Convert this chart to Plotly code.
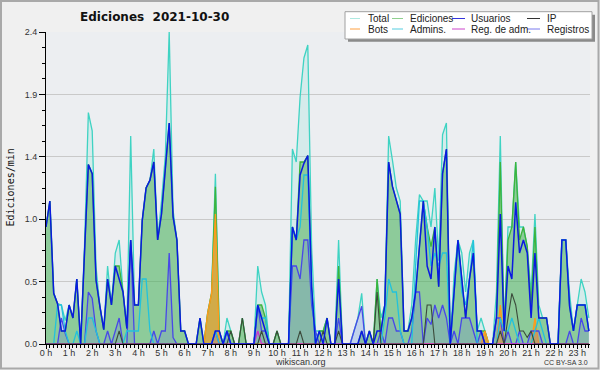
import plotly.graph_objects as go

# ---------------- data (10-minute bins, values in edits per minute) ----------------
hour_ticks = list(range(24))
hour_labels = [f"{h} h" for h in hour_ticks]
y_tick_vals = [0, 0.48, 0.96, 1.44, 1.92, 2.4]
y_tick_labels = ["0.0", "0.5", "1.0", "1.4", "1.9", "2.4"]
bin_minutes = [i * 10 for i in range(142)]

total = [
    0.90, 1.10, 0.39, 0.31, 0.30, 0.18,   0.30, 0.20, 0.50, 0.00, 0.75, 1.78,
    1.64, 0.59, 0.29, 0.11, 0.60, 0.30,   0.70, 0.80, 0.40, 0.12, 1.60, 0.30,
    0.30, 0.95, 1.20, 1.26, 1.50, 0.80,   1.10, 1.45, 2.40, 1.03, 0.80, 0.10,
    0.10, 0.00, 0.00, 0.00, 0.20, 0.00,   0.24, 0.39, 1.31, 0.10, 0.00, 0.20,
    0.10, 0.00, 0.00, 0.20, 0.00, 0.00,   0.00, 0.60, 0.40, 0.30, 0.00, 0.00,
    0.10, 0.00, 0.00, 0.00, 1.50, 1.40,   1.90, 2.20, 2.30, 0.74, 0.10, 0.10,
    0.10, 0.20, 0.00, 0.00, 0.80, 0.00,   0.00, 0.00, 0.10, 0.20, 0.39, 0.00,
    0.10, 0.00, 0.50, 0.20, 0.30, 1.60,   1.41, 1.20, 1.10, 0.10, 0.10, 0.30,
    0.80, 1.15, 1.10, 1.10, 0.90, 1.20,   0.64, 1.61, 1.70, 0.00, 0.54, 0.80,
    0.70, 0.40, 0.70, 0.80, 0.10, 0.20,   0.10, 0.00, 0.00, 0.40, 1.60, 0.10,
    0.90, 0.90, 1.40, 0.90, 0.90, 0.75,   0.39, 1.00, 0.30, 0.20, 0.20, 0.00,
    0.00, 0.00, 0.80, 0.80, 0.39, 0.10,   0.30, 0.50, 0.40, 0.20,
]
ediciones = [
    0.90, 1.10, 0.39, 0.31, 0.10, 0.10,   0.30, 0.20, 0.50, 0.00, 0.70, 1.38,
    1.31, 0.49, 0.29, 0.11, 0.50, 0.30,   0.60, 0.60, 0.40, 0.12, 0.80, 0.30,
    0.30, 0.95, 1.20, 1.26, 1.40, 0.80,   1.00, 1.35, 1.70, 0.98, 0.80, 0.10,
    0.10, 0.00, 0.00, 0.00, 0.20, 0.00,   0.24, 0.39, 1.21, 0.10, 0.00, 0.10,
    0.10, 0.00, 0.00, 0.20, 0.00, 0.00,   0.00, 0.30, 0.30, 0.20, 0.00, 0.00,
    0.10, 0.00, 0.00, 0.00, 0.90, 0.80,   1.40, 1.40, 1.45, 0.44, 0.00, 0.10,
    0.10, 0.20, 0.00, 0.00, 0.60, 0.00,   0.00, 0.00, 0.00, 0.00, 0.10, 0.00,
    0.10, 0.00, 0.50, 0.10, 0.30, 1.40,   1.21, 1.10, 1.00, 0.10, 0.10, 0.20,
    0.40, 0.75, 1.10, 0.90, 0.75, 0.90,   0.44, 1.31, 1.50, 0.00, 0.44, 0.80,
    0.50, 0.20, 0.50, 0.70, 0.10, 0.10,   0.10, 0.00, 0.00, 0.20, 1.40, 0.10,
    0.80, 0.90, 1.40, 0.80, 0.90, 0.75,   0.29, 0.90, 0.20, 0.20, 0.20, 0.00,
    0.00, 0.00, 0.80, 0.80, 0.29, 0.10,   0.30, 0.30, 0.30, 0.10,
]
usuarios = [
    0.90, 1.10, 0.39, 0.31, 0.10, 0.10,   0.30, 0.20, 0.50, 0.00, 0.70, 1.38,
    1.31, 0.49, 0.29, 0.11, 0.50, 0.30,   0.60, 0.50, 0.40, 0.12, 0.80, 0.30,
    0.30, 0.95, 1.20, 1.26, 1.40, 0.80,   1.00, 1.35, 1.70, 0.98, 0.80, 0.10,
    0.10, 0.00, 0.00, 0.00, 0.20, 0.00,   0.00, 0.00, 0.10, 0.10, 0.00, 0.10,
    0.00, 0.00, 0.00, 0.00, 0.00, 0.00,   0.00, 0.30, 0.20, 0.10, 0.00, 0.00,
    0.00, 0.00, 0.00, 0.00, 0.90, 0.80,   1.30, 1.39, 1.45, 0.44, 0.00, 0.10,
    0.00, 0.20, 0.00, 0.00, 0.50, 0.00,   0.00, 0.00, 0.00, 0.00, 0.10, 0.00,
    0.10, 0.00, 0.10, 0.10, 0.30, 1.40,   1.21, 1.10, 1.00, 0.10, 0.10, 0.20,
    0.40, 0.75, 1.10, 0.60, 0.50, 0.90,   0.44, 1.31, 1.50, 0.00, 0.44, 0.80,
    0.50, 0.20, 0.50, 0.70, 0.10, 0.10,   0.00, 0.00, 0.00, 0.20, 1.00, 0.10,
    0.60, 0.50, 1.09, 0.70, 0.80, 0.70,   0.20, 0.70, 0.20, 0.20, 0.20, 0.00,
    0.00, 0.00, 0.80, 0.80, 0.29, 0.10,   0.30, 0.30, 0.30, 0.10,
]
ip = [
    0, 0, 0, 0, 0, 0,   0, 0, 0, 0, 0, 0,
    0, 0, 0, 0, 0, 0,   0, 0.10, 0, 0, 0, 0,
    0, 0, 0, 0, 0, 0,   0, 0, 0, 0, 0, 0,
    0, 0, 0, 0, 0, 0,   0, 0, 0, 0, 0, 0,
    0.10, 0, 0, 0.20, 0, 0,   0, 0, 0.10, 0, 0, 0,
    0.10, 0, 0, 0, 0, 0,   0.10, 0, 0, 0, 0, 0,
    0.10, 0, 0, 0, 0.10, 0,   0, 0, 0, 0, 0, 0,
    0, 0, 0.40, 0, 0, 0,   0, 0, 0, 0, 0, 0,
    0, 0, 0, 0.30, 0.30, 0,   0, 0, 0, 0, 0, 0,
    0, 0, 0, 0, 0, 0,   0, 0, 0, 0, 0.10, 0,
    0.20, 0.39, 0.30, 0.10, 0.10, 0.05,   0.10, 0, 0, 0, 0, 0,
    0, 0, 0, 0, 0, 0,   0, 0, 0, 0,
]
bots = [
    0, 0, 0, 0, 0, 0,   0, 0, 0, 0, 0, 0,
    0, 0, 0, 0, 0, 0,   0, 0, 0, 0, 0, 0,
    0, 0, 0, 0, 0, 0,   0, 0, 0, 0, 0, 0,
    0, 0, 0, 0, 0, 0,   0.24, 0.39, 1.00, 0, 0, 0,
    0, 0, 0, 0, 0, 0,   0, 0, 0, 0, 0, 0,
    0, 0, 0, 0, 0, 0,   0, 0, 0, 0, 0, 0,
    0, 0, 0, 0, 0, 0,   0, 0, 0, 0, 0, 0,
    0, 0, 0, 0, 0, 0,   0, 0, 0, 0, 0, 0,
    0, 0, 0, 0, 0, 0,   0, 0, 0, 0, 0, 0,
    0, 0, 0, 0, 0, 0,   0.10, 0, 0, 0, 0.30, 0,
    0, 0, 0, 0, 0, 0,   0, 0.20, 0, 0, 0, 0,
    0, 0, 0, 0, 0, 0,   0, 0, 0, 0,
]
admins = [
    0, 0, 0, 0.30, 0.30, 0.10,   0, 0, 0.10, 0, 0, 0.20,
    0.20, 0.10, 0, 0, 0, 0,   0, 0, 0, 0.10, 0.10, 0.10,
    0.10, 0.50, 0.50, 0.10, 0, 0,   0, 0, 0, 0, 0, 0,
    0, 0, 0, 0, 0, 0,   0, 0, 0.10, 0, 0, 0.10,
    0, 0, 0, 0, 0, 0,   0, 0.30, 0.20, 0.20, 0, 0,
    0, 0, 0, 0, 0.90, 0.80,   0.90, 1.30, 1.30, 0.40, 0, 0.10,
    0, 0, 0, 0, 0, 0,   0, 0, 0, 0, 0, 0,
    0, 0, 0, 0, 0.20, 0.50,   0.40, 0.40, 0.10, 0, 0, 0,
    0.60, 1.10, 1.10, 0.90, 0.60, 0.70,   0.60, 0.70, 0.70, 0, 0.40, 0.80,
    0.40, 0.30, 0.50, 0.80, 0, 0,   0, 0, 0, 0, 0.20, 0.10,
    0.10, 0.20, 0.10, 0, 0, 0,   0, 0.10, 0.20, 0.10, 0, 0,
    0, 0, 0.80, 0.80, 0.30, 0.10,   0.30, 0.30, 0.30, 0.10,
]
reg_adm = [
    0, 0, 0, 0, 0, 0,   0, 0, 0, 0, 0, 0,
    0, 0, 0, 0, 0, 0,   0, 0, 0, 0, 0, 0,
    0, 0, 0, 0, 0, 0,   0, 0, 0, 0, 0, 0,
    0, 0, 0, 0, 0, 0,   0, 0, 0, 0, 0, 0,
    0, 0, 0, 0, 0, 0,   0, 0.10, 0, 0, 0, 0,
    0, 0, 0, 0, 0, 0,   0, 0, 0, 0, 0, 0,
    0, 0, 0, 0, 0, 0,   0, 0, 0, 0, 0, 0,
    0, 0, 0, 0, 0, 0,   0, 0, 0, 0, 0, 0,
    0, 0, 0, 0, 0, 0,   0, 0, 0, 0, 0, 0,
    0, 0, 0, 0, 0, 0,   0, 0, 0, 0, 0, 0,
    0, 0, 0, 0, 0, 0,   0, 0, 0, 0, 0, 0,
    0, 0, 0, 0, 0, 0,   0, 0, 0, 0,
]
registros = [
    0, 0, 0, 0, 0.20, 0.08,   0, 0, 0, 0, 0, 0.40,
    0.35, 0.10, 0, 0, 0.10, 0,   0.10, 0.20, 0, 0, 0.80, 0,
    0, 0, 0, 0, 0.10, 0,   0.10, 0.10, 0.70, 0.05, 0, 0,
    0, 0, 0, 0, 0, 0,   0, 0, 0.10, 0, 0, 0.10,
    0, 0, 0, 0, 0, 0,   0, 0.30, 0.10, 0.10, 0, 0,
    0, 0, 0, 0, 0.60, 0.60,   0.50, 0.80, 0.80, 0.30, 0.10, 0,
    0, 0, 0, 0, 0.20, 0,   0, 0, 0.10, 0.20, 0.29, 0,
    0, 0, 0, 0.10, 0, 0.20,   0.20, 0.10, 0.10, 0, 0, 0.10,
    0.40, 0.40, 0, 0.20, 0.15, 0.30,   0.20, 0.30, 0.20, 0, 0.10, 0,
    0.20, 0.20, 0.20, 0.10, 0, 0.10,   0, 0, 0, 0.20, 0.20, 0,
    0.10, 0, 0, 0.10, 0, 0,   0.10, 0.10, 0.10, 0, 0, 0,
    0, 0, 0, 0, 0.10, 0,   0, 0.20, 0.10, 0.10,
]

# ---------------- layout helpers (pixel -> paper) ----------------
W, H = 600, 370
L, R, T, B = 46, 10, 32, 26
PW, PH = W - L - R, H - T - B


def px(x):
    return (x - L) / PW


def py(y):
    return (H - B - y) / PH


fig = go.Figure()

# draw order: fills first, then lines
fig.add_trace(go.Scatter(x=bin_minutes, y=total, mode="lines", fill="tozeroy",
                         fillcolor="rgba(64,214,200,0.13)",
                         line=dict(color="#3fd3c3", width=1.3), name="Total"))
fig.add_trace(go.Scatter(x=bin_minutes, y=ediciones, mode="lines", fill="tozeroy",
                         fillcolor="rgba(70,172,74,0.5)",
                         line=dict(color="#3cb43c", width=1.3), name="Ediciones"))
fig.add_trace(go.Scatter(x=bin_minutes, y=bots, mode="lines", fill="tozeroy",
                         fillcolor="rgba(255,150,20,0.6)",
                         line=dict(color="#ff9a1a", width=1.3), name="Bots"))
fig.add_trace(go.Scatter(x=bin_minutes, y=registros, mode="lines", fill="tozeroy",
                         fillcolor="rgba(110,110,235,0.2)",
                         line=dict(color="#4848e8", width=1.3), name="Registros"))
fig.add_trace(go.Scatter(x=bin_minutes, y=admins, mode="lines",
                         line=dict(color="#22c2dc", width=1.3), name="Admins."))
fig.add_trace(go.Scatter(x=bin_minutes, y=reg_adm, mode="lines",
                         line=dict(color="#cc33cc", width=1.3), name="Reg. de adm."))
fig.add_trace(go.Scatter(x=bin_minutes, y=ip, mode="lines",
                         line=dict(color="#3b4a3b", width=1.1), name="IP"))
fig.add_trace(go.Scatter(x=bin_minutes, y=usuarios, mode="lines",
                         line=dict(color="#0a1ae0", width=1.5), name="Usuarios"))

tick_font = dict(family="Liberation Sans, Arial, sans-serif", size=9, color="#333333")

fig.update_layout(
    width=W, height=H,
    margin=dict(l=L, r=R, t=T, b=B, pad=0),
    paper_bgcolor="#f0f0f0",
    plot_bgcolor="#eceef1",
    showlegend=False,
    hovermode=False,
    xaxis=dict(
        range=[0, 1413], tickmode="array",
        tickvals=[h * 60 for h in hour_ticks], ticktext=hour_labels,
        ticks="outside", ticklen=4, tickcolor="black", tickwidth=1,
        showline=True, linecolor="black", linewidth=1,
        showgrid=False, zeroline=False, tickfont=tick_font, automargin=False,
        ticklabelstandoff=-4,
        minor=dict(tickmode="linear", tick0=0, dtick=10, ticks="outside",
                   ticklen=3, tickcolor="black", showgrid=False),
    ),
    yaxis=dict(
        range=[0, 2.4], tickmode="array",
        tickvals=y_tick_vals, ticktext=y_tick_labels,
        ticks="outside", ticklen=6, tickcolor="black", tickwidth=1,
        showline=True, linecolor="black", linewidth=1,
        showgrid=True, gridcolor="#c9c9c9", gridwidth=1,
        zeroline=False, tickfont=tick_font, automargin=False,
        minor=dict(tickmode="linear", tick0=0, dtick=0.12, ticks="outside",
                   ticklen=3, tickcolor="black", showgrid=False),
    ),
)

shapes = []
annotations = []

# outer frame
shapes.append(dict(type="rect", xref="paper", yref="paper",
                   x0=px(1), x1=px(598.5), y0=py(368.5), y1=py(1),
                   line=dict(color="#a9a9a9", width=2), fillcolor="rgba(0,0,0,0)",
                   layer="above"))

# title
annotations.append(dict(text="<b>Ediciones\u00a0 2021-10-30</b>", xref="paper", yref="paper",
                        x=px(154), y=py(17), xanchor="center", yanchor="middle",
                        showarrow=False,
                        font=dict(family="DejaVu Sans, sans-serif", size=12, color="#111")))
# y axis title
annotations.append(dict(text="Ediciones/min", xref="paper", yref="paper",
                        x=px(9.5), y=0.5, xanchor="center", yanchor="middle",
                        textangle=-90, showarrow=False,
                        font=dict(family="DejaVu Sans Mono, monospace", size=10, color="#111")))
# footer texts
annotations.append(dict(text="wikiscan.org", xref="paper", yref="paper",
                        x=px(300), y=py(362), xanchor="center", yanchor="middle",
                        showarrow=False,
                        font=dict(family="Liberation Sans, Arial, sans-serif", size=9, color="#333")))
annotations.append(dict(text="CC BY-SA 3.0", xref="paper", yref="paper",
                        x=px(590), y=py(362.5), xanchor="right", yanchor="middle",
                        showarrow=False,
                        font=dict(family="Liberation Sans, Arial, sans-serif", size=7, color="#333")))

# legend (manual)
shapes.append(dict(type="rect", xref="paper", yref="paper",
                   x0=px(348), x1=px(595), y0=py(41.7), y1=py(14.7),
                   line=dict(width=0), fillcolor="#8a8a8a", layer="above"))
shapes.append(dict(type="rect", xref="paper", yref="paper",
                   x0=px(345), x1=px(592), y0=py(39), y1=py(11.7),
                   line=dict(color="#a0a0a0", width=1), fillcolor="#ffffff", layer="above"))

legend_names = ["Total", "Ediciones", "Usuarios", "IP",
                "Bots", "Admins.", "Reg. de adm.", "Registros"]
legend_colors = ["#aee9e1", "#8fd08f", "#3434dc", "#333333",
                 "#ffa040", "#55cde0", "#cc44cc", "#7a7aee"]
col_line = [(350, 360), (392, 403), (452, 465), (527, 540)]
col_text = [366, 408, 469, 545]
row_y = [18.5, 29]
for k, (name, col) in enumerate(zip(legend_names, legend_colors)):
    r, c = divmod(k, 4)
    shapes.append(dict(type="line", xref="paper", yref="paper",
                       x0=px(col_line[c][0]), x1=px(col_line[c][1]),
                       y0=py(row_y[r]), y1=py(row_y[r]),
                       line=dict(color=col, width=1), layer="above"))
    annotations.append(dict(text=name, xref="paper", yref="paper",
                            x=px(col_text[c]), y=py(row_y[r]),
                            xanchor="left", yanchor="middle", showarrow=False,
                            font=dict(family="Liberation Sans, Arial, sans-serif",
                                      size=10, color="#222")))

fig.update_layout(shapes=shapes, annotations=annotations)

fig.write_html("out.html", config={"displayModeBar": False, "staticPlot": True},
               post_script="document.body.style.margin='0';document.body.style.padding='0';")
